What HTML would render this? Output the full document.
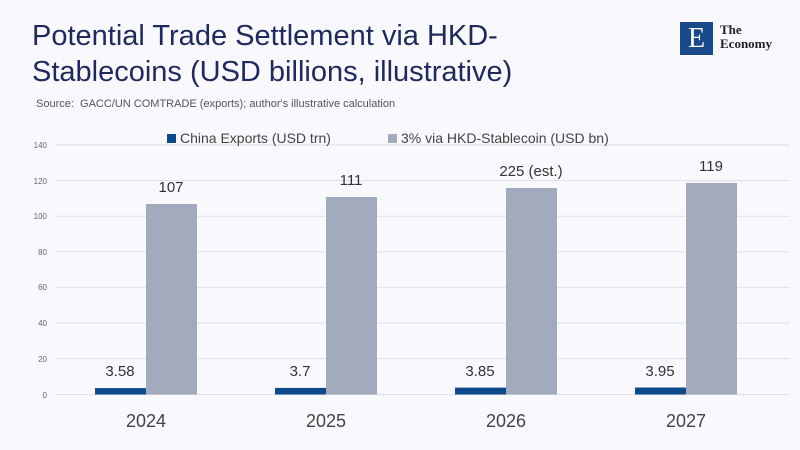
<!DOCTYPE html>
<html><head><style>
body{margin:0;width:800px;height:450px;background:#f8f8fd;font-family:"Liberation Sans",sans-serif;overflow:hidden;position:relative}
.t{position:absolute;left:32px;top:18px;font-size:29px;line-height:36px;color:#1f2a5a}
.s{position:absolute;left:36px;top:98px;font-size:11px;color:#555}
</style></head><body>
<div class="t">Potential Trade Settlement via HKD-<br>Stablecoins (USD billions, illustrative)</div>
<div class="s">Source:&nbsp; GACC/UN COMTRADE (exports); author's illustrative calculation</div>
<div style="position:absolute;left:680px;top:22px;width:33px;height:33px;background:#1a4a8a;color:#fff;font-family:'Liberation Serif',serif;font-size:28px;text-align:center;line-height:34px">E</div>
<div style="position:absolute;left:720px;top:23px;font-family:'Liberation Serif',serif;font-size:13px;line-height:14px;color:#222;font-weight:bold">The<br>Economy</div>
<svg width="800" height="450" style="position:absolute;left:0;top:0" font-family="Liberation Sans, sans-serif">
<g stroke="#dde0ea" stroke-width="1">
<line x1="56" x2="790" y1="145" y2="145"/><line x1="56" x2="790" y1="180.6" y2="180.6"/><line x1="56" x2="790" y1="216.2" y2="216.2"/><line x1="56" x2="790" y1="251.8" y2="251.8"/><line x1="56" x2="790" y1="287.4" y2="287.4"/><line x1="56" x2="790" y1="323" y2="323"/><line x1="56" x2="790" y1="358.6" y2="358.6"/><line x1="56" x2="790" y1="394.5" y2="394.5"/>
</g>
<g font-size="8" fill="#666" text-anchor="end">
<text x="47" y="148">140</text><text x="47" y="184">120</text><text x="47" y="219">100</text><text x="47" y="255">80</text><text x="47" y="290">60</text><text x="47" y="326">40</text><text x="47" y="362">20</text><text x="47" y="398">0</text>
</g>
<rect x="167" y="134" width="9" height="9" fill="#0e4a8a"/>
<text x="180" y="143" font-size="14" fill="#444">China Exports (USD trn)</text>
<rect x="388" y="134" width="9" height="9" fill="#a2aabe"/>
<text x="401" y="143" font-size="14" fill="#444">3% via HKD-Stablecoin (USD bn)</text>
<g fill="#0e4a8a">
<rect x="95" y="388.1" width="51" height="6.4"/><rect x="275" y="387.9" width="51" height="6.6"/><rect x="455" y="387.6" width="51" height="6.9"/><rect x="635" y="387.5" width="51" height="7"/>
</g>
<g fill="#a2aabe">
<rect x="146" y="204" width="51" height="190.5"/><rect x="326" y="197" width="51" height="197.5"/><rect x="506" y="188" width="51" height="206.5"/><rect x="686" y="183" width="51" height="211.5"/>
</g>
<g font-size="15" fill="#333" text-anchor="middle">
<text x="120" y="376">3.58</text><text x="300" y="376">3.7</text><text x="480" y="376">3.85</text><text x="660" y="376">3.95</text>
<text x="171" y="192">107</text><text x="351" y="185">111</text><text x="531" y="176">225 (est.)</text><text x="711" y="171">119</text>
</g>
<g font-size="18" fill="#444" text-anchor="middle">
<text x="146" y="427">2024</text><text x="326" y="427">2025</text><text x="506" y="427">2026</text><text x="686" y="427">2027</text>
</g>
</svg>
</body></html>
